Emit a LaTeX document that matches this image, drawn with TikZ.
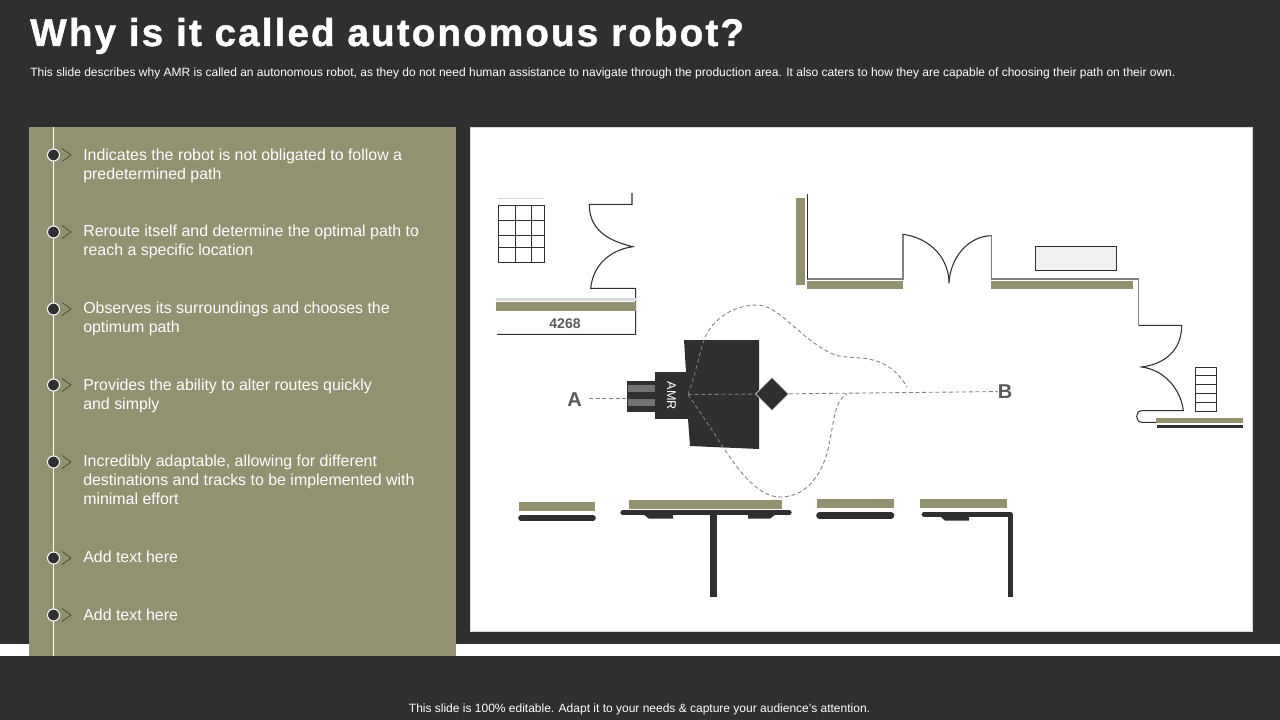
\documentclass[tikz,border=0pt]{standalone}
\usepackage{fontspec}
\setmainfont{Liberation Sans}
\newfontfamily\titlefont[LetterSpace=5.4,FakeBold=1.2]{Liberation Sans Bold}
\usetikzlibrary{shapes.geometric}
\definecolor{dunkel}{RGB}{47,47,47}
\definecolor{oliv}{RGB}{146,146,113}
\definecolor{hellgrau}{RGB}{217,217,217}
\definecolor{schrift}{RGB}{89,89,89}
\tikzset{
	bullettext/.style={anchor=west, align=left, inner sep=0pt, text=white, font=\fontsize{11.95}{14.4}\selectfont},
	dot/.style={circle, draw=white, fill=dunkel, line width=0.8pt, minimum size=9pt, inner sep=0pt},
	chevron/.style={draw=dunkel!80!oliv, line width=0.5pt},
	wall/.style={draw=dunkel, line width=0.8pt},
	oldwall/.style={draw=gray, line width=1pt},
	olivbar/.style={fill=oliv, draw=none},
	desk/.style={draw=dunkel, line cap=round},
	route/.style={draw=gray, dash pattern=on 3pt off 2pt, line width=0.65pt}
}
\begin{document}
\begin{tikzpicture}[x=0.75pt, y=-0.75pt]
	\useasboundingbox (0,0) rectangle (1280,720);

	% Hintergrund
	\fill[dunkel] (0,0) rectangle (1280,720);
	\fill[white] (0,644) rectangle (1280,656);
	\fill[oliv] (29,127) rectangle (456,656);
	\draw[fill=white, draw=hellgrau, line width=0.5pt] (470.5,127.5) rectangle (1252.5,631.5);

	% Kopf und Fuss
	\node[anchor=west, inner sep=0pt, text=white] (title) at (30,36) {\titlefont\fontsize{29}{34}\selectfont Why is it called autonomous robot?};
	\node[anchor=west, inner sep=0pt, text=white] (subtitle) at (30,73.5) {\fontsize{9}{10}\selectfont This slide describes why AMR is called an autonomous robot, as they do not need human assistance to navigate through the production area. It also caters to how they are capable of choosing their path on their own.};
	\node[inner sep=0pt, text=white] (footer) at (639.5,709.5) {\fontsize{9}{11}\selectfont This slide is 100\% editable. Adapt it to your needs \& capture your audience’s attention.};

	% Liste links
	\draw[white, line width=0.8pt] (53.5,127) -- (53.5,656);
	\foreach \ypos/\name in {155/a, 232/b, 309/c, 385/d, 462/e, 558/f, 615/g} {
		\node[dot] (dot\name) at (53.5,\ypos) {};
		\draw[chevron] (62,\ypos-6.5) -- (71,\ypos) -- (62,\ypos+6.5);
	}
	\node[bullettext] (text1) at (83,166) {Indicates the robot is not obligated to follow a\\predetermined path};
	\node[bullettext] (text2) at (83,242) {Reroute itself and determine the optimal path to\\reach a specific location};
	\node[bullettext] (text3) at (83,319) {Observes its surroundings and chooses the\\optimum path};
	\node[bullettext] (text4) at (83,396) {Provides the ability to alter routes quickly\\and simply};
	\node[bullettext] (text5) at (83,480) {Incredibly adaptable, allowing for different\\destinations and tracks to be implemented with\\minimal effort};
	\node[bullettext] (text6) at (83,557) {Add text here};
	\node[bullettext] (text7) at (83,615) {Add text here};

	% Regal und Tuer oben links
	\draw[hellgrau, line width=0.7pt] (498,198) -- (544,198);
	\draw[wall] (498.3,205.3) rectangle (544.3,262.7);
	\foreach \xpos in {515.3,531.7} \draw[wall] (\xpos,205.3) -- (\xpos,262.7);
	\foreach \ypos in {220.3,235.3,247.3} \draw[wall] (498.3,\ypos) -- (544.3,\ypos);
	\draw[wall] (632,193) -- (632,204.3) -- (589.3,204.3)
		.. controls (589.3,228) and (605,240) .. (632.7,246.7)
		.. controls (610,250) and (593,265) .. (590.7,288.3)
		-- (635.7,288.3) -- (635.7,334.3) -- (497,334.3);
	\fill[hellgrau] (496,298) rectangle (636,300.7);
	\fill[olivbar] (496,302) rectangle (636,311);
	\node[text=schrift, inner sep=0pt] (nummer) at (565,323.5) {\bfseries\fontsize{10.5}{12}\selectfont 4268};

	% Wand oben
	\fill[olivbar] (796,197.7) rectangle (805,285);
	\draw[oldwall] (807.3,279) -- (903,279) -- (903,234.3);
	\draw[wall] (807.3,194.3) -- (807.3,279);
	\draw[wall] (903,234.3) .. controls (930,238) and (949,258) .. (949,283.3)
		.. controls (950,258) and (968,236) .. (991.7,235.7);
	\draw[oldwall] (991.7,235.7) -- (991.7,279) -- (1138.7,279) -- (1138.7,325.3);
	\fill[olivbar] (807,281) rectangle (903,289);
	\fill[olivbar] (991,281) rectangle (1133,289);
	\draw[wall, fill=black!6] (1035.3,246.3) rectangle (1116.7,270.7);

	% Tuer und Regal rechts
	\draw[wall] (1138.7,325.3) -- (1181.7,325.3)
		.. controls (1181.7,350) and (1165,364) .. (1141.7,367)
		.. controls (1165,370) and (1181,390) .. (1183.3,410.7)
		-- (1141.7,410.7) .. controls (1135,411) and (1135,422) .. (1141.7,422.3) -- (1156.7,422.3);
	\draw[wall] (1195.3,367.3) rectangle (1216.7,411.7);
	\foreach \ypos in {375.7,384.7,393.7,402.3} \draw[wall] (1195.3,\ypos) -- (1216.7,\ypos);
	\fill[olivbar] (1156,418) rectangle (1242.7,423);
	\fill[dunkel] (1156.7,424.7) rectangle (1242.7,427.7);

	% Tische unten
	\fill[olivbar] (519,502) rectangle (595,510.7);
	\draw[desk, line width=4.2pt] (521,518) -- (593,518);
	\fill[olivbar] (629,500) rectangle (782,509);
	\draw[desk, line width=4pt] (623,512.7) -- (789,512.7);
	\fill[dunkel] (643,514) -- (649,518.7) -- (673,518.7) -- (673,514) -- cycle;
	\fill[dunkel] (748,514) -- (748,518.7) -- (770,518.7) -- (776,514) -- cycle;
	\fill[dunkel] (710,513) rectangle (717,596.7);
	\fill[olivbar] (817,499) rectangle (894,507.7);
	\draw[desk, line width=5pt] (819.5,515.5) -- (891,515.5);
	\fill[olivbar] (920,499) rectangle (1007,507.7);
	\draw[desk, line width=3.6pt] (924,514.3) -- (1010.5,514.3);
	\fill[dunkel] (940,516) -- (945,520.7) -- (969,520.7) -- (969,516) -- cycle;
	\fill[dunkel] (1008,514) rectangle (1013,596.7);

	% Roboter
	\fill[dunkel] (684,340) -- (759,340) -- (759,449) -- (690,446) -- (688,419) -- (686,372) -- cycle;
	\node[fill=dunkel, inner sep=0pt, minimum width=24.8pt, minimum height=35.2pt] (front) at (671.5,395.5) {};
	\node[text=white, rotate=-90, inner sep=0pt] (amr) at (671.5,396) {\fontsize{9.5}{11}\selectfont AMR};
	\node[fill=dunkel, inner sep=0pt, minimum width=21.8pt, minimum height=23.2pt] (tail) at (641.5,396.5) {};
	\fill[black!55] (628,385) rectangle (655,392);
	\fill[black!55] (628,399) rectangle (655,406);
	\node[diamond, fill=dunkel, draw=white, line width=0.4pt, inner sep=0pt, minimum size=25pt] (ziel) at (772,394) {};
	\coordinate (start) at (688,394.5);
	\coordinate (tailin) at (627,398);
	\coordinate (lblAout) at (589,398);

	% Wege
	\node[text=schrift, inner sep=0pt] (lblA) at (574.5,399.5) {\bfseries\fontsize{15}{18}\selectfont A};
	\node[text=schrift, inner sep=0pt] (lblB) at (1005,391.5) {\bfseries\fontsize{15}{18}\selectfont B};
	\draw[route] (lblAout) -- (tailin);
	\draw[route] (start) -- (ziel);
	\draw[route] (ziel) -- (lblB);
	\draw[route] (start) .. controls (697,370) and (700,350) .. (704,340)
		.. controls (712,318) and (735,305) .. (757,305)
		.. controls (780,305) and (800,340) .. (835,355)
		.. controls (855,361) and (885,350) .. (907,387);
	\draw[route] (start) .. controls (700,412) and (712,430) .. (723,447)
		.. controls (738,470) and (758,497) .. (780,497)
		.. controls (812,497) and (826,465) .. (830,440)
		.. controls (834,420) and (835,400) .. (847,394);
\end{tikzpicture}
\end{document}
